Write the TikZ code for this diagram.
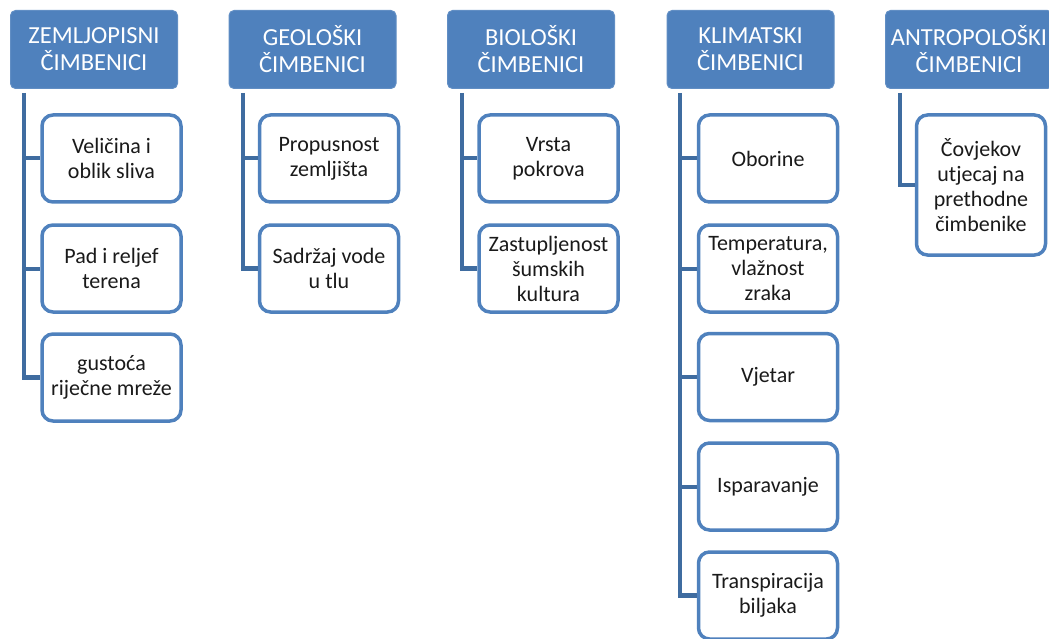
\documentclass[tikz,border=0pt]{standalone}
\usepackage{fontspec}
\setmainfont{Carlito}
\definecolor{hdr}{HTML}{4F81BD}
\definecolor{conn}{HTML}{3F6CA0}
\definecolor{txt}{HTML}{1A1A1A}
\tikzset{
  hdrbox/.style={fill=hdr, draw=hdr!90!white, line width=1pt, rounded corners=5pt,
    minimum width=167pt, minimum height=78pt, inner sep=0pt, align=center,
    text=white, font=\fontsize{24.5}{27}\selectfont},
  kid/.style={draw=hdr, line width=3.5pt, fill=white, rounded corners=11pt,
    minimum width=139pt, minimum height=87pt, inner sep=0pt, align=center,
    text=txt, font=\fontsize{22}{25}\selectfont},
  tallkid/.style={kid, minimum width=129pt, minimum height=140pt},
  link/.style={draw=conn, line width=4.5pt},
  stub/.style={draw=conn, line width=4pt}
}
\begin{document}
\begin{tikzpicture}[x=1pt,y=-1pt]
\useasboundingbox (0,0) rectangle (1049,639);
\begin{scope}
\clip (0,0) rectangle (1049,639);
% headers
\node[hdrbox] (h1) at (94,49.5) {ZEMLJOPISNI\\ČIMBENICI};
\node[hdrbox] (h2) at (312.5,49.5) {GEOLOŠKI\\ČIMBENICI};
\node[hdrbox] (h3) at (531,49.5) {BIOLOŠKI\\ČIMBENICI};
\node[hdrbox] (h4) at (750.5,49.5) {KLIMATSKI\\ČIMBENICI};
\node[hdrbox] (h5) at (969,49.5) {ANTROPOLOŠKI\\ČIMBENICI};
% spine tops
\coordinate (t1) at (24,93);
\coordinate (t2) at (243,93);
\coordinate (t3) at (462,93);
\coordinate (t4) at (680,93);
\coordinate (t5) at (900,93);
% column 1
\node[kid] (a1) at (111.5,158.5) {Veličina i\\oblik sliva};
\node[kid] (a2) at (111.5,268.5) {Pad i reljef\\terena};
\node[kid] (a3) at (111.5,377.5) {gustoća\\riječne mreže};
% column 2
\node[kid] (b1) at (329,158.5) {Propusnost\\zemljišta};
\node[kid] (b2) at (329,268.5) {Sadržaj vode\\u tlu};
% column 3
\node[kid] (c1) at (548.5,158.5) {Vrsta\\pokrova};
\node[kid] (c2) at (548.5,268.5) {Zastupljenost\\šumskih\\kultura};
% column 4
\node[kid] (d1) at (768,158.5) {Oborine};
\node[kid] (d2) at (768,268.5) {Temperatura,\\vlažnost\\zraka};
\node[kid] (d3) at (768,377) {Vjetar};
\node[kid] (d4) at (768,486.5) {Isparavanje};
\node[kid] (d5) at (768,595.5) {Transpiracija\\biljaka};
% column 5
\node[tallkid] (e1) at (981,185) {Čovjekov\\utjecaj na\\prethodne\\čimbenike};
% connectors
\draw[link] (t1) |- (a3.west);
\draw[stub] (t1 |- a1.west) -- (a1.west);
\draw[stub] (t1 |- a2.west) -- (a2.west);
\draw[link] (t2) |- (b2.west);
\draw[stub] (t2 |- b1.west) -- (b1.west);
\draw[link] (t3) |- (c2.west);
\draw[stub] (t3 |- c1.west) -- (c1.west);
\draw[link] (t4) |- (d5.west);
\draw[stub] (t4 |- d1.west) -- (d1.west);
\draw[stub] (t4 |- d2.west) -- (d2.west);
\draw[stub] (t4 |- d3.west) -- (d3.west);
\draw[stub] (t4 |- d4.west) -- (d4.west);
\draw[link] (t5) |- (e1.west);
\end{scope}
\end{tikzpicture}
\end{document}
